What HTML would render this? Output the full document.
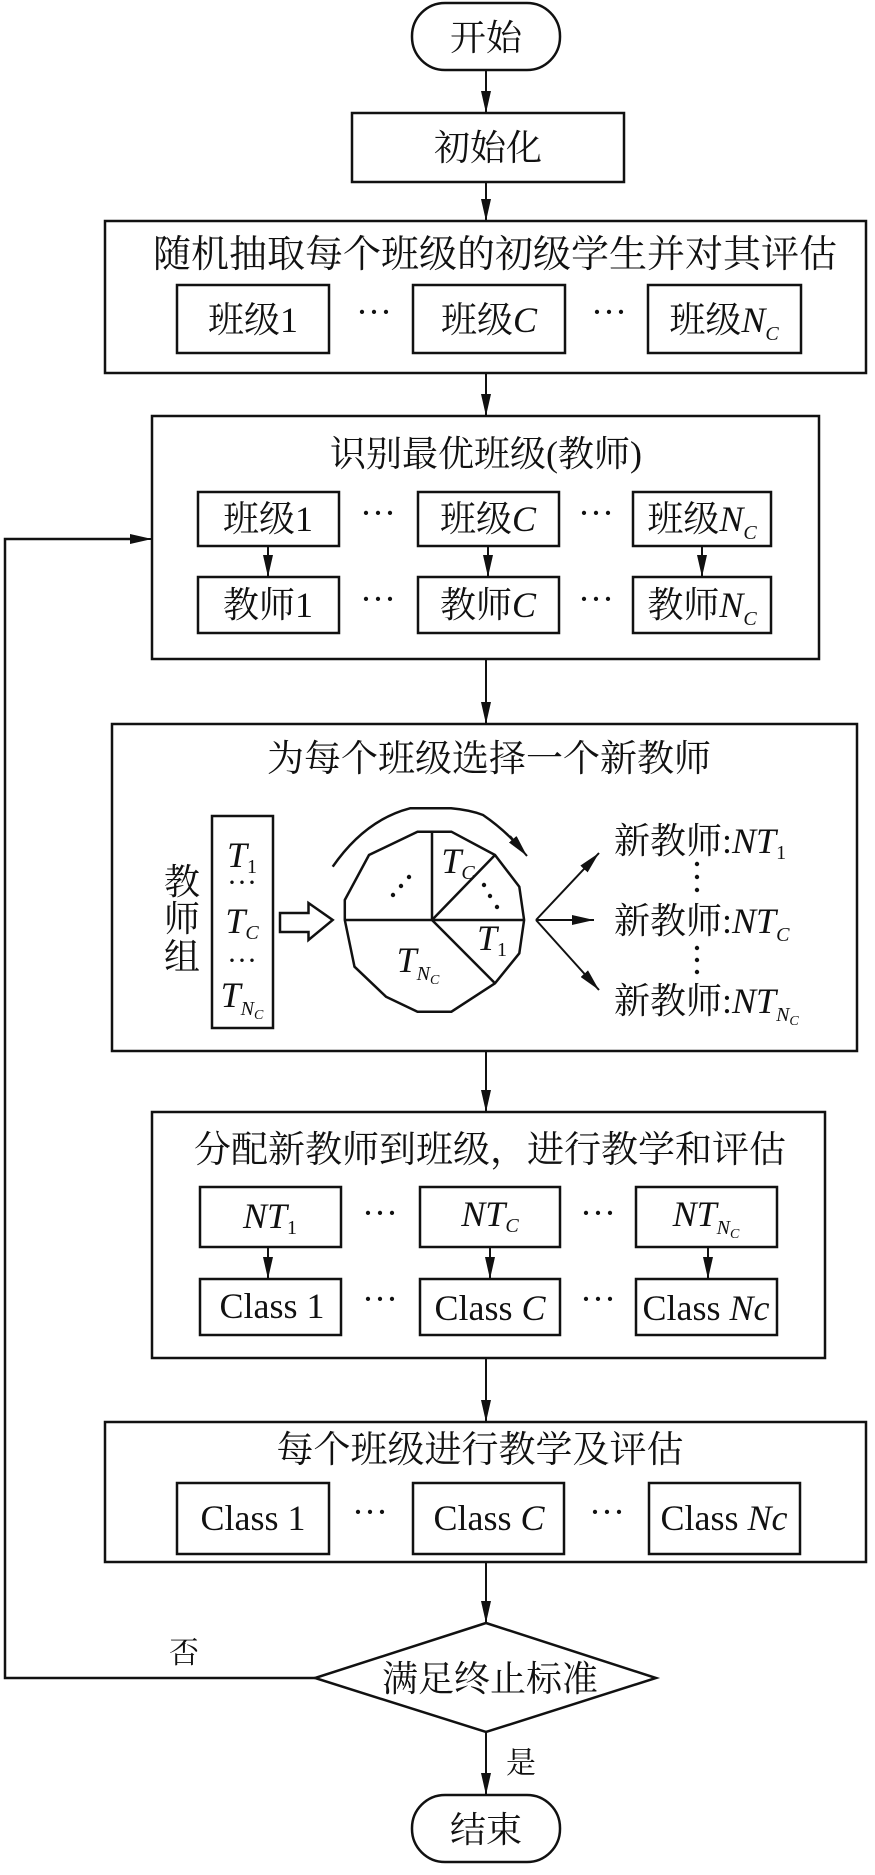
<!DOCTYPE html>
<html><head><meta charset="utf-8"><style>
html,body{margin:0;padding:0;background:#fff;}
svg{display:block;}
text{font-family:"Liberation Serif","Noto Serif CJK SC",serif;font-size:36px;fill:#111;}
.i{font-style:italic;}
.s{font-size:20px;}
</style></head><body>
<svg width="875" height="1875" viewBox="0 0 875 1875" xmlns="http://www.w3.org/2000/svg">
<defs>
<marker id="h" markerWidth="22" markerHeight="10" refX="22" refY="5" orient="auto" markerUnits="userSpaceOnUse" viewBox="0 0 22 10">
<path d="M0,0 L22,5 L0,10 Z" fill="#111"/>
</marker>
</defs>
<g stroke="#111" stroke-width="2.5" fill="none">
<rect x="412" y="3" width="148" height="67" rx="33" ry="33"/>
<rect x="352" y="113" width="272" height="69"/>
<rect x="105" y="221" width="761" height="152"/>
<rect x="177" y="285" width="152" height="68"/>
<rect x="413" y="285" width="152" height="68"/>
<rect x="648" y="285" width="153" height="68"/>
<rect x="152" y="416" width="667" height="243"/>
<rect x="198" y="492" width="141" height="54"/>
<rect x="418" y="492" width="141" height="54"/>
<rect x="633" y="492" width="138" height="54"/>
<rect x="198" y="577" width="141" height="56"/>
<rect x="418" y="577" width="141" height="56"/>
<rect x="633" y="577" width="138" height="56"/>
<rect x="112" y="724" width="745" height="327"/>
<rect x="212" y="816" width="61" height="212"/>
<polygon points="417.5,831.7 451.4,831.7 495,855 519.3,886.7 524.1,920 519.3,953.3 495,983.3 451.4,1011.7 417.5,1011.7 386,996.7 354.5,966.7 344.8,920 344.8,900 369,855"/>
<line x1="432" y1="831.7" x2="432" y2="920"/>
<line x1="344.8" y1="920" x2="524.1" y2="920"/>
<line x1="432" y1="920" x2="495" y2="855"/>
<line x1="432" y1="920" x2="495" y2="983.3"/>
<path d="M332.7,866.7 Q365,820 410,808.3 L451,808.3 Q470,810 483,815 Q505,830 522,850"/>
<polygon points="280,913 308.5,913 308.5,903 332.7,920 308.5,940 308.5,932 280,932"/>
<rect x="152" y="1112" width="673" height="246"/>
<rect x="200" y="1187" width="141" height="60"/>
<rect x="420" y="1187" width="140" height="60"/>
<rect x="636" y="1187" width="141" height="60"/>
<rect x="200" y="1279" width="141" height="56"/>
<rect x="420" y="1279" width="140" height="56"/>
<rect x="636" y="1279" width="141" height="56"/>
<rect x="105" y="1422" width="761" height="140"/>
<rect x="177" y="1483" width="152" height="71"/>
<rect x="413" y="1483" width="151" height="71"/>
<rect x="649" y="1483" width="151" height="71"/>
<polygon points="486,1623 656,1678 486,1732 315,1678"/>
<rect x="412" y="1795" width="148" height="67" rx="33" ry="33"/>
<polyline points="315,1678 5,1678 5,539 140,539"/>
</g>
<g stroke="#111" stroke-width="2">
<line x1="486" y1="70" x2="486" y2="113" marker-end="url(#h)"/>
<line x1="486" y1="182" x2="486" y2="221" marker-end="url(#h)"/>
<line x1="486" y1="373" x2="486" y2="416" marker-end="url(#h)"/>
<line x1="486" y1="659" x2="486" y2="724" marker-end="url(#h)"/>
<line x1="486" y1="1051" x2="486" y2="1112" marker-end="url(#h)"/>
<line x1="486" y1="1358" x2="486" y2="1422" marker-end="url(#h)"/>
<line x1="486" y1="1562" x2="486" y2="1623" marker-end="url(#h)"/>
<line x1="486" y1="1732" x2="486" y2="1795" marker-end="url(#h)"/>
<line x1="268" y1="546" x2="268" y2="577" marker-end="url(#h)"/>
<line x1="488" y1="546" x2="488" y2="577" marker-end="url(#h)"/>
<line x1="702" y1="546" x2="702" y2="577" marker-end="url(#h)"/>
<line x1="268" y1="1247" x2="268" y2="1279" marker-end="url(#h)"/>
<line x1="490" y1="1247" x2="490" y2="1279" marker-end="url(#h)"/>
<line x1="708" y1="1247" x2="708" y2="1279" marker-end="url(#h)"/>
<line x1="120" y1="539" x2="152" y2="539" marker-end="url(#h)"/>
<line x1="536" y1="920" x2="599" y2="853" marker-end="url(#h)"/>
<line x1="536" y1="920" x2="594" y2="920" marker-end="url(#h)"/>
<line x1="536" y1="920" x2="599" y2="990" marker-end="url(#h)"/>
<line x1="510" y1="836" x2="527" y2="856" marker-end="url(#h)"/>
</g>
<g text-anchor="middle">
<text x="486" y="50">开始</text>
<text x="488" y="160">初始化</text>
<text x="495" y="267" style="font-size:38px">随机抽取每个班级的初级学生并对其评估</text>
<text x="253" y="332">班级1</text>
<text x="489" y="332">班级<tspan class="i">C</tspan></text>
<text x="724" y="332">班级<tspan class="i">N</tspan><tspan class="i s" dy="8">C</tspan></text>
<text x="374" y="324">···</text>
<text x="609" y="324">···</text>
<text x="486" y="466">识别最优班级(教师)</text>
<text x="268" y="531">班级1</text>
<text x="488" y="531">班级<tspan class="i">C</tspan></text>
<text x="702" y="531">班级<tspan class="i">N</tspan><tspan class="i s" dy="8">C</tspan></text>
<text x="378" y="525">···</text>
<text x="596" y="525">···</text>
<text x="268" y="617">教师1</text>
<text x="488" y="617">教师<tspan class="i">C</tspan></text>
<text x="702" y="617">教师<tspan class="i">N</tspan><tspan class="i s" dy="8">C</tspan></text>
<text x="378" y="611">···</text>
<text x="596" y="611">···</text>
<text x="489" y="771" style="font-size:37px">为每个班级选择一个新教师</text>
<text x="182" y="894">教</text>
<text x="182" y="931">师</text>
<text x="182" y="969">组</text>
<text x="242" y="867" class="i" style="font-size:36px">T<tspan class="s" style="font-style:normal" dy="6">1</tspan></text>
<text x="242" y="892" style="font-size:30px">···</text>
<text x="242" y="933" class="i" style="font-size:36px">T<tspan class="s" dy="6">C</tspan></text>
<text x="242" y="970" style="font-size:30px">···</text>
<text x="242" y="1007" class="i" style="font-size:36px">T<tspan class="s" dy="8">N</tspan><tspan style="font-size:14px" dy="4">C</tspan></text>
<text x="458" y="873" class="i" style="font-size:36px">T<tspan class="s" dy="6">C</tspan></text>
<text x="492" y="950" class="i" style="font-size:36px">T<tspan class="s" style="font-style:normal" dy="6">1</tspan></text>
<text x="418" y="972" class="i" style="font-size:36px">T<tspan class="s" dy="8">N</tspan><tspan style="font-size:14px" dy="4">C</tspan></text>
</g>
<g fill="#111">
<circle cx="393" cy="895" r="2.2"/><circle cx="401" cy="886" r="2.2"/><circle cx="409" cy="877" r="2.2"/>
<circle cx="484" cy="885" r="2.2"/><circle cx="490" cy="896" r="2.2"/><circle cx="497" cy="907" r="2.2"/>
<circle cx="697" cy="864" r="2.2"/><circle cx="697" cy="877" r="2.2"/><circle cx="697" cy="890" r="2.2"/>
<circle cx="697" cy="948" r="2.2"/><circle cx="697" cy="960" r="2.2"/><circle cx="697" cy="972" r="2.2"/>
</g>
<g>
<text x="614" y="853">新教师:<tspan class="i">NT</tspan><tspan class="s" dy="6">1</tspan></text>
<text x="614" y="933">新教师:<tspan class="i">NT</tspan><tspan class="i s" dy="8">C</tspan></text>
<text x="614" y="1013">新教师:<tspan class="i">NT</tspan><tspan class="i s" dy="8">N</tspan><tspan class="i" style="font-size:14px" dy="4">C</tspan></text>
</g>
<g text-anchor="middle">
<text x="490" y="1162" style="font-size:37px">分配新教师到班级，进行教学和评估</text>
<text x="270" y="1228"><tspan class="i">NT</tspan><tspan class="s" dy="6">1</tspan></text>
<text x="490" y="1226"><tspan class="i">NT</tspan><tspan class="i s" dy="6">C</tspan></text>
<text x="706" y="1226"><tspan class="i">NT</tspan><tspan class="i s" dy="8">N</tspan><tspan class="i" style="font-size:14px" dy="4">C</tspan></text>
<text x="380" y="1225">···</text>
<text x="598" y="1225">···</text>
<text x="272" y="1318">Class 1</text>
<text x="490" y="1320">Class <tspan class="i">C</tspan></text>
<text x="706" y="1320">Class <tspan class="i">Nc</tspan></text>
<text x="380" y="1311">···</text>
<text x="598" y="1311">···</text>
<text x="480" y="1462" style="font-size:37px">每个班级进行教学及评估</text>
<text x="253" y="1530">Class 1</text>
<text x="489" y="1530">Class <tspan class="i">C</tspan></text>
<text x="724" y="1530">Class <tspan class="i">Nc</tspan></text>
<text x="370" y="1524">···</text>
<text x="607" y="1524">···</text>
<text x="490" y="1691">满足终止标准</text>
<text x="184" y="1663" style="font-size:30px">否</text>
<text x="521" y="1773" style="font-size:30px">是</text>
<text x="486" y="1842">结束</text>
</g>
</svg>
</body></html>
